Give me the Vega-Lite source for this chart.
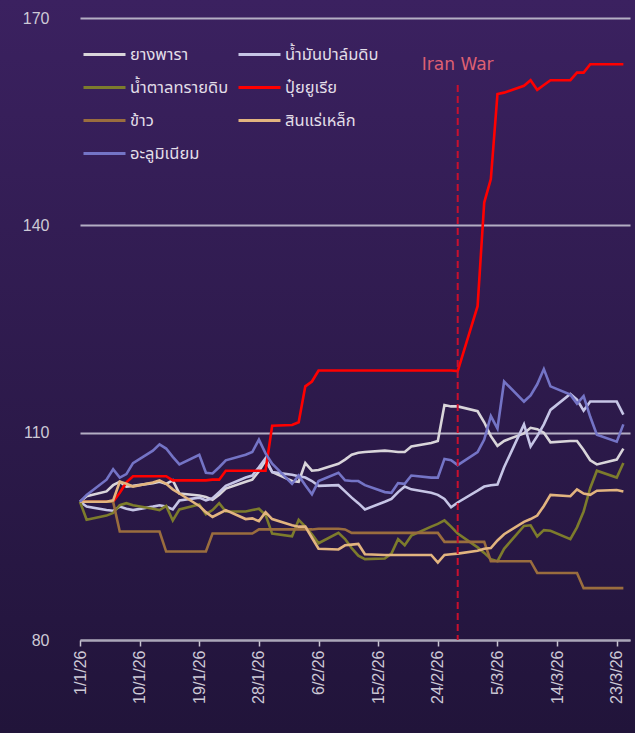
{
  "$schema": "https://vega.github.io/schema/vega-lite/v6.json",
  "width": 635,
  "height": 733,
  "autosize": {"type": "none"},
  "padding": 0,
  "background": "#2c1a4c",
  "view": {
    "stroke": null,
    "fill": {"gradient": "linear", "x1": 0, "y1": 0, "x2": 0, "y2": 1,
      "stops": [{"offset": 0, "color": "#3b2160"}, {"offset": 1, "color": "#21143a"}]}
  },
  "config": {"font": "Liberation Sans"},
  "layer": [
    {
      "data": {"values": [
        {"date":"2026-01-01T00:00:00","ยางพารา":100,"น้ำมันปาล์มดิบ":100,"น้ำตาลทรายดิบ":100,"ปุ๋ยยูเรีย":100,"ข้าว":100,"สินแร่เหล็ก":100,"อะลูมิเนียม":100},
        {"date":"2026-01-02T00:00:00","ยางพารา":100.8,"น้ำมันปาล์มดิบ":99.3,"น้ำตาลทรายดิบ":97.4,"ปุ๋ยยูเรีย":100,"ข้าว":100,"สินแร่เหล็ก":100,"อะลูมิเนียม":101.0},
        {"date":"2026-01-05T00:00:00","ยางพารา":101.5,"น้ำมันปาล์มดิบ":98.8,"น้ำตาลทรายดิบ":98.0,"ปุ๋ยยูเรีย":100,"ข้าว":100,"สินแร่เหล็ก":100,"อะลูมิเนียม":103.2},
        {"date":"2026-01-06T00:00:00","ยางพารา":102.4,"น้ำมันปาล์มดิบ":98.7,"น้ำตาลทรายดิบ":98.4,"ปุ๋ยยูเรีย":100,"ข้าว":100,"สินแร่เหล็ก":100.2,"อะลูมิเนียม":104.7},
        {"date":"2026-01-07T00:00:00","ยางพารา":102.9,"น้ำมันปาล์มดิบ":99.3,"น้ำตาลทรายดิบ":99.5,"ปุ๋ยยูเรีย":101.3,"ข้าว":95.7,"สินแร่เหล็ก":102.9,"อะลูมิเนียม":103.5},
        {"date":"2026-01-08T00:00:00","ยางพารา":102.2,"น้ำมันปาล์มดิบ":99.0,"น้ำตาลทรายดิบ":99.8,"ปุ๋ยยูเรีย":102.8,"ข้าว":95.7,"สินแร่เหล็ก":102.6,"อะลูมิเนียม":104.0},
        {"date":"2026-01-09T00:00:00","ยางพารา":102.3,"น้ำมันปาล์มดิบ":98.8,"น้ำตาลทรายดิบ":99.5,"ปุ๋ยยูเรีย":103.7,"ข้าว":95.7,"สินแร่เหล็ก":102.2,"อะลูมิเนียม":105.6},
        {"date":"2026-01-12T00:00:00","ยางพารา":102.7,"น้ำมันปาล์มดิบ":99.3,"น้ำตาลทรายดิบ":99.0,"ปุ๋ยยูเรีย":103.7,"ข้าว":95.7,"สินแร่เหล็ก":102.8,"อะลูมิเนียม":107.4},
        {"date":"2026-01-13T00:00:00","ยางพารา":102.9,"น้ำมันปาล์มดิบ":99.5,"น้ำตาลทรายดิบ":98.8,"ปุ๋ยยูเรีย":103.7,"ข้าว":95.7,"สินแร่เหล็ก":103.1,"อะลูมิเนียม":108.3},
        {"date":"2026-01-14T00:00:00","ยางพารา":102.6,"น้ำมันปาล์มดิบ":99.3,"น้ำตาลทรายดิบ":99.4,"ปุ๋ยยูเรีย":103.7,"ข้าว":92.8,"สินแร่เหล็ก":102.6,"อะลูมิเนียม":107.7},
        {"date":"2026-01-15T00:00:00","ยางพารา":103.1,"น้ำมันปาล์มดิบ":98.9,"น้ำตาลทรายดิบ":97.3,"ปุ๋ยยูเรีย":103.1,"ข้าว":92.8,"สินแร่เหล็ก":101.8,"อะลูมิเนียม":106.5},
        {"date":"2026-01-16T00:00:00","ยางพารา":101.2,"น้ำมันปาล์มดิบ":100.2,"น้ำตาลทรายดิบ":98.9,"ปุ๋ยยูเรีย":103.1,"ข้าว":92.8,"สินแร่เหล็ก":101.2,"อะลูมิเนียม":105.4},
        {"date":"2026-01-19T00:00:00","ยางพารา":100.9,"น้ำมันปาล์มดิบ":100.6,"น้ำตาลทรายดิบ":99.6,"ปุ๋ยยูเรีย":103.1,"ข้าว":92.8,"สินแร่เหล็ก":99.4,"อะลูมิเนียม":106.8},
        {"date":"2026-01-20T00:00:00","ยางพารา":100.7,"น้ำมันปาล์มดิบ":100.2,"น้ำตาลทรายดิบ":98.2,"ปุ๋ยยูเรีย":103.1,"ข้าว":92.8,"สินแร่เหล็ก":98.5,"อะลูมิเนียม":104.2},
        {"date":"2026-01-21T00:00:00","ยางพารา":100.3,"น้ำมันปาล์มดิบ":100.5,"น้ำตาลทรายดิบ":98.8,"ปุ๋ยยูเรีย":103.2,"ข้าว":95.4,"สินแร่เหล็ก":97.8,"อะลูมิเนียม":104.1},
        {"date":"2026-01-22T00:00:00","ยางพารา":101.0,"น้ำมันปาล์มดิบ":101.4,"น้ำตาลทรายดิบ":99.8,"ปุ๋ยยูเรีย":103.2,"ข้าว":95.4,"สินแร่เหล็ก":98.3,"อะลูมิเนียม":105.0},
        {"date":"2026-01-23T00:00:00","ยางพารา":101.9,"น้ำมันปาล์มดิบ":102.3,"น้ำตาลทรายดิบ":98.6,"ปุ๋ยยูเรีย":104.5,"ข้าว":95.4,"สินแร่เหล็ก":98.8,"อะลูมิเนียม":106.0},
        {"date":"2026-01-26T00:00:00","ยางพารา":102.9,"น้ำมันปาล์มดิบ":103.5,"น้ำตาลทรายดิบ":98.6,"ปุ๋ยยูเรีย":104.5,"ข้าว":95.4,"สินแร่เหล็ก":97.5,"อะลูมิเนียม":106.8},
        {"date":"2026-01-27T00:00:00","ยางพารา":103.2,"น้ำมันปาล์มดิบ":103.8,"น้ำตาลทรายดิบ":98.8,"ปุ๋ยยูเรีย":104.5,"ข้าว":95.4,"สินแร่เหล็ก":97.6,"อะลูมิเนียม":107.2},
        {"date":"2026-01-28T00:00:00","ยางพารา":104.4,"น้ำมันปาล์มดิบ":105.0,"น้ำตาลทรายดิบ":99.0,"ปุ๋ยยูเรีย":104.5,"ข้าว":96.0,"สินแร่เหล็ก":97.2,"อะลูมิเนียม":109.0},
        {"date":"2026-01-29T00:00:00","ยางพารา":106.0,"น้ำมันปาล์มดิบ":106.3,"น้ำตาลทรายดิบ":98.1,"ปุ๋ยยูเรีย":104.5,"ข้าว":96.0,"สินแร่เหล็ก":98.5,"อะลูมิเนียม":107.0},
        {"date":"2026-01-30T00:00:00","ยางพารา":104.3,"น้ำมันปาล์มดิบ":104.3,"น้ำตาลทรายดิบ":95.4,"ปุ๋ยยูเรีย":111.0,"ข้าว":96.0,"สินแร่เหล็ก":97.5,"อะลูมิเนียม":105.5},
        {"date":"2026-02-02T00:00:00","ยางพารา":103.0,"น้ำมันปาล์มดิบ":103.9,"น้ำตาลทรายดิบ":95.0,"ปุ๋ยยูเรีย":111.1,"ข้าว":96.0,"สินแร่เหล็ก":96.6,"อะลูมิเนียม":102.6},
        {"date":"2026-02-03T00:00:00","ยางพารา":102.9,"น้ำมันปาล์มดิบ":103.7,"น้ำตาลทรายดิบ":97.4,"ปุ๋ยยูเรีย":111.5,"ข้าว":96.0,"สินแร่เหล็ก":96.4,"อะลูมิเนียม":103.8},
        {"date":"2026-02-04T00:00:00","ยางพารา":105.6,"น้ำมันปาล์มดิบ":103.5,"น้ำตาลทรายดิบ":96.4,"ปุ๋ยยูเรีย":116.7,"ข้าว":96.0,"สินแร่เหล็ก":96.4,"อะลูมิเนียม":102.4},
        {"date":"2026-02-05T00:00:00","ยางพารา":104.5,"น้ำมันปาล์มดิบ":103.0,"น้ำตาลทรายดิบ":95.3,"ปุ๋ยยูเรีย":117.4,"ข้าว":96.0,"สินแร่เหล็ก":94.8,"อะลูมิเนียม":101.1},
        {"date":"2026-02-06T00:00:00","ยางพารา":104.6,"น้ำมันปาล์มดิบ":102.3,"น้ำตาลทรายดิบ":94.0,"ปุ๋ยยูเรีย":119.0,"ข้าว":96.1,"สินแร่เหล็ก":93.2,"อะลูมิเนียม":103.0},
        {"date":"2026-02-09T00:00:00","ยางพารา":105.5,"น้ำมันปาล์มดิบ":102.4,"น้ำตาลทรายดิบ":95.5,"ปุ๋ยยูเรีย":119.0,"ข้าว":96.1,"สินแร่เหล็ก":93.1,"อะลูมิเนียม":104.2},
        {"date":"2026-02-10T00:00:00","ยางพารา":106.1,"น้ำมันปาล์มดิบ":101.5,"น้ำตาลทรายดิบ":94.6,"ปุ๋ยยูเรีย":119.0,"ข้าว":96.0,"สินแร่เหล็ก":93.7,"อะลูมิเนียม":103.1},
        {"date":"2026-02-11T00:00:00","ยางพารา":106.8,"น้ำมันปาล์มดิบ":100.6,"น้ำตาลทรายดิบ":93.3,"ปุ๋ยยูเรีย":119.0,"ข้าว":95.5,"สินแร่เหล็ก":93.8,"อะลูมิเนียม":103.0},
        {"date":"2026-02-12T00:00:00","ยางพารา":107.1,"น้ำมันปาล์มดิบ":99.8,"น้ำตาลทรายดิบ":92.2,"ปุ๋ยยูเรีย":119.0,"ข้าว":95.5,"สินแร่เหล็ก":93.9,"อะลูมิเนียม":103.0},
        {"date":"2026-02-13T00:00:00","ยางพารา":107.2,"น้ำมันปาล์มดิบ":98.9,"น้ำตาลทรายดิบ":91.7,"ปุ๋ยยูเรีย":119.0,"ข้าว":95.5,"สินแร่เหล็ก":92.4,"อะลูมิเนียม":102.4},
        {"date":"2026-02-16T00:00:00","ยางพารา":107.4,"น้ำมันปาล์มดิบ":100.0,"น้ำตาลทรายดิบ":91.8,"ปุ๋ยยูเรีย":119.0,"ข้าว":95.5,"สินแร่เหล็ก":92.3,"อะลูมิเนียม":101.4},
        {"date":"2026-02-17T00:00:00","ยางพารา":107.3,"น้ำมันปาล์มดิบ":100.4,"น้ำตาลทรายดิบ":92.5,"ปุ๋ยยูเรีย":119.0,"ข้าว":95.5,"สินแร่เหล็ก":92.3,"อะลูมิเนียม":101.3},
        {"date":"2026-02-18T00:00:00","ยางพารา":107.2,"น้ำมันปาล์มดิบ":101.4,"น้ำตาลทรายดิบ":94.6,"ปุ๋ยยูเรีย":119.0,"ข้าว":95.5,"สินแร่เหล็ก":92.3,"อะลูมิเนียม":102.7},
        {"date":"2026-02-19T00:00:00","ยางพารา":107.2,"น้ำมันปาล์มดิบ":102.2,"น้ำตาลทรายดิบ":93.7,"ปุ๋ยยูเรีย":119.0,"ข้าว":95.5,"สินแร่เหล็ก":92.3,"อะลูมิเนียม":102.6},
        {"date":"2026-02-20T00:00:00","ยางพารา":108.0,"น้ำมันปาล์มดิบ":101.8,"น้ำตาลทรายดิบ":95.1,"ปุ๋ยยูเรีย":119.0,"ข้าว":95.5,"สินแร่เหล็ก":92.3,"อะลูมิเนียม":103.8},
        {"date":"2026-02-23T00:00:00","ยางพารา":108.5,"น้ำมันปาล์มดิบ":101.3,"น้ำตาลทรายดิบ":96.4,"ปุ๋ยยูเรีย":119.0,"ข้าว":95.5,"สินแร่เหล็ก":92.3,"อะลูมิเนียม":103.5},
        {"date":"2026-02-24T00:00:00","ยางพารา":108.8,"น้ำมันปาล์มดิบ":101.0,"น้ำตาลทรายดิบ":96.8,"ปุ๋ยยูเรีย":119.0,"ข้าว":95.5,"สินแร่เหล็ก":91.2,"อะลูมิเนียม":103.5},
        {"date":"2026-02-25T00:00:00","ยางพารา":114.0,"น้ำมันปาล์มดิบ":100.4,"น้ำตาลทรายดิบ":97.3,"ปุ๋ยยูเรีย":119.0,"ข้าว":94.2,"สินแร่เหล็ก":92.3,"อะลูมิเนียม":106.2},
        {"date":"2026-02-26T00:00:00","ยางพารา":113.8,"น้ำมันปาล์มดิบ":99.2,"น้ำตาลทรายดิบ":96.4,"ปุ๋ยยูเรีย":119.0,"ข้าว":94.2,"สินแร่เหล็ก":92.4,"อะลูมิเนียม":106.0},
        {"date":"2026-02-27T00:00:00","ยางพารา":113.8,"น้ำมันปาล์มดิบ":99.9,"น้ำตาลทรายดิบ":95.4,"ปุ๋ยยูเรีย":118.9,"ข้าว":94.2,"สินแร่เหล็ก":92.5,"อะลูมิเนียม":105.3},
        {"date":"2026-03-02T00:00:00","ยางพารา":113.1,"น้ำมันปาล์มดิบ":101.6,"น้ำตาลทรายดิบ":93.4,"ปุ๋ยยูเรีย":128.3,"ข้าว":94.2,"สินแร่เหล็ก":92.9,"อะลูมิเนียม":107.2},
        {"date":"2026-03-03T00:00:00","ยางพารา":111.5,"น้ำมันปาล์มดิบ":102.2,"น้ำตาลทรายดิบ":92.6,"ปุ๋ยยูเรีย":143.3,"ข้าว":94.2,"สินแร่เหล็ก":93.2,"อะลูมิเนียม":109.0},
        {"date":"2026-03-04T00:00:00","ยางพารา":109.5,"น้ำมันปาล์มดิบ":102.4,"น้ำตาลทรายดิบ":91.7,"ปุ๋ยยูเรีย":146.7,"ข้าว":91.4,"สินแร่เหล็ก":93.3,"อะลูมิเนียม":112.4},
        {"date":"2026-03-05T00:00:00","ยางพารา":108.1,"น้ำมันปาล์มดิบ":102.5,"น้ำตาลทรายดิบ":91.4,"ปุ๋ยยูเรีย":159.0,"ข้าว":91.4,"สินแร่เหล็ก":94.4,"อะลูมิเนียม":110.6},
        {"date":"2026-03-06T00:00:00","ยางพารา":108.8,"น้ำมันปาล์มดิบ":105.0,"น้ำตาลทรายดิบ":93.2,"ปุ๋ยยูเรีย":159.2,"ข้าว":91.4,"สินแร่เหล็ก":95.3,"อะลูมิเนียม":117.4},
        {"date":"2026-03-09T00:00:00","ยางพารา":109.9,"น้ำมันปาล์มดิบ":111.2,"น้ำตาลทรายดิบ":96.5,"ปุ๋ยยูเรีย":160.2,"ข้าว":91.4,"สินแร่เหล็ก":97.1,"อะลูมิเนียม":114.5},
        {"date":"2026-03-10T00:00:00","ยางพารา":110.7,"น้ำมันปาล์มดิบ":108.0,"น้ำตาลทรายดิบ":96.6,"ปุ๋ยยูเรีย":161.0,"ข้าว":91.4,"สินแร่เหล็ก":97.5,"อะลูมิเนียม":115.4},
        {"date":"2026-03-11T00:00:00","ยางพารา":110.5,"น้ำมันปาล์มดิบ":109.5,"น้ำตาลทรายดิบ":95.0,"ปุ๋ยยูเรีย":159.6,"ข้าว":89.7,"สินแร่เหล็ก":98.0,"อะลูมิเนียม":117.0},
        {"date":"2026-03-12T00:00:00","ยางพารา":110.0,"น้ำมันปาล์มดิบ":111.2,"น้ำตาลทรายดิบ":95.9,"ปุ๋ยยูเรีย":160.3,"ข้าว":89.7,"สินแร่เหล็ก":99.4,"อะลูมิเนียม":119.2},
        {"date":"2026-03-13T00:00:00","ยางพารา":108.6,"น้ำมันปาล์มดิบ":113.3,"น้ำตาลทรายดิบ":95.8,"ปุ๋ยยูเรีย":161.0,"ข้าว":89.7,"สินแร่เหล็ก":101.0,"อะลูมิเนียม":116.7},
        {"date":"2026-03-16T00:00:00","ยางพารา":108.8,"น้ำมันปาล์มดิบ":115.6,"น้ำตาลทรายดิบ":94.6,"ปุ๋ยยูเรีย":161.0,"ข้าว":89.7,"สินแร่เหล็ก":100.8,"อะลูมิเนียม":115.5},
        {"date":"2026-03-17T00:00:00","ยางพารา":108.8,"น้ำมันปาล์มดิบ":114.8,"น้ำตาลทรายดิบ":96.3,"ปุ๋ยยูเรีย":162.1,"ข้าว":89.7,"สินแร่เหล็ก":101.8,"อะลูมิเนียม":114.2},
        {"date":"2026-03-18T00:00:00","ยางพารา":107.5,"น้ำมันปาล์มดิบ":113.2,"น้ำตาลทรายดิบ":98.6,"ปุ๋ยยูเรีย":162.1,"ข้าว":87.5,"สินแร่เหล็ก":101.2,"อะลูมิเนียม":115.3},
        {"date":"2026-03-19T00:00:00","ยางพารา":106.0,"น้ำมันปาล์มดิบ":114.5,"น้ำตาลทรายดิบ":102.0,"ปุ๋ยยูเรีย":163.3,"ข้าว":87.5,"สินแร่เหล็ก":101.0,"อะลูมิเนียม":112.3},
        {"date":"2026-03-20T00:00:00","ยางพารา":105.4,"น้ำมันปาล์มดิบ":114.5,"น้ำตาลทรายดิบ":104.5,"ปุ๋ยยูเรีย":163.3,"ข้าว":87.5,"สินแร่เหล็ก":101.6,"อะลูมิเนียม":109.7},
        {"date":"2026-03-23T00:00:00","ยางพารา":106.1,"น้ำมันปาล์มดิบ":114.5,"น้ำตาลทรายดิบ":103.5,"ปุ๋ยยูเรีย":163.3,"ข้าว":87.5,"สินแร่เหล็ก":101.7,"อะลูมิเนียม":108.7},
        {"date":"2026-03-24T00:00:00","ยางพารา":107.7,"น้ำมันปาล์มดิบ":112.6,"น้ำตาลทรายดิบ":105.6,"ปุ๋ยยูเรีย":163.3,"ข้าว":87.5,"สินแร่เหล็ก":101.5,"อะลูมิเนียม":111.2}
      ]},
      "transform": [
        {"fold": ["ยางพารา", "น้ำมันปาล์มดิบ", "น้ำตาลทรายดิบ", "ปุ๋ยยูเรีย", "ข้าว", "สินแร่เหล็ก", "อะลูมิเนียม"], "as": ["series", "value"]}
      ],
      "mark": {"type": "line", "strokeWidth": 2.6},
      "encoding": {
        "x": {
          "field": "date", "type": "temporal",
          "scale": {"domain": [{"year": 2026, "month": 1, "date": 1}, {"year": 2026, "month": 3, "date": 25}], "range": [80, 630]},
          "axis": {
            "title": null,
            "values": [
              {"year": 2026, "month": 1, "date": 1}, {"year": 2026, "month": 1, "date": 10},
              {"year": 2026, "month": 1, "date": 19}, {"year": 2026, "month": 1, "date": 28},
              {"year": 2026, "month": 2, "date": 6}, {"year": 2026, "month": 2, "date": 15},
              {"year": 2026, "month": 2, "date": 24}, {"year": 2026, "month": 3, "date": 5},
              {"year": 2026, "month": 3, "date": 14}, {"year": 2026, "month": 3, "date": 23}
            ],
            "format": "%-d/%-m/%y",
            "labelAngle": -90,
            "labelOverlap": false,
            "grid": false,
            "offset": -93,
            "domainColor": "#aaa6b8",
            "domainWidth": 2,
            "tickColor": "#c8c4d2",
            "tickSize": 6,
            "tickWidth": 1.5,
            "labelColor": "#cdc9d6",
            "labelFontSize": 16,
            "labelPadding": 4
          }
        },
        "y": {
          "field": "value", "type": "quantitative",
          "scale": {"domain": [80, 170], "range": [640, 18], "nice": false, "zero": false},
          "axis": {
            "title": null,
            "values": [80, 110, 140, 170],
            "grid": true,
            "gridColor": "#b4aec4",
            "gridWidth": 2,
            "gridOpacity": 1,
            "domain": false,
            "ticks": false,
            "tickSize": 0,
            "offset": -52,
            "labelPadding": 3,
            "labelColor": "#cdc9d6",
            "labelFontSize": 16
          }
        },
        "color": {
          "field": "series", "type": "nominal",
          "scale": {
            "domain": ["ยางพารา", "น้ำตาลทรายดิบ", "ข้าว", "อะลูมิเนียม", "น้ำมันปาล์มดิบ", "ปุ๋ยยูเรีย", "สินแร่เหล็ก"],
            "range": ["#d9d5da", "#7d7c2c", "#9a6d3e", "#7474c6", "#c6c5e6", "#ff0000", "#e2b47f"]
          },
          "legend": {
            "title": null,
            "orient": "none",
            "legendX": 82,
            "legendY": 32,
            "direction": "vertical",
            "columns": 2,
            "padding": 0,
            "symbolType": "stroke",
            "symbolSize": 1764,
            "symbolStrokeWidth": 3,
            "labelColor": "#e2dee8",
            "labelFontSize": 16.5,
            "labelFont": "Noto Sans Thai, Tahoma, DejaVu Sans, sans-serif",
            "labelOffset": 3,
            "rowPadding": 2,
            "columnPadding": 3
          }
        }
      }
    },
    {
      "data": {"values": [{"date": "2026-02-27T00:00:00", "top": 160.3, "bottom": 80}]},
      "mark": {"type": "rule", "color": "#c8102e", "strokeWidth": 2, "strokeDash": [7, 4]},
      "encoding": {
        "x": {"field": "date", "type": "temporal"},
        "y": {"field": "top", "type": "quantitative"},
        "y2": {"field": "bottom"}
      }
    },
    {
      "data": {"values": [{"date": "2026-02-27T00:00:00", "ly": 163.2, "label": "Iran War"}]},
      "mark": {"type": "text", "color": "#df6072", "fontSize": 17, "font": "DejaVu Sans", "baseline": "middle", "align": "center"},
      "encoding": {
        "x": {"field": "date", "type": "temporal"},
        "y": {"field": "ly", "type": "quantitative"},
        "text": {"field": "label"}
      }
    }
  ]
}
